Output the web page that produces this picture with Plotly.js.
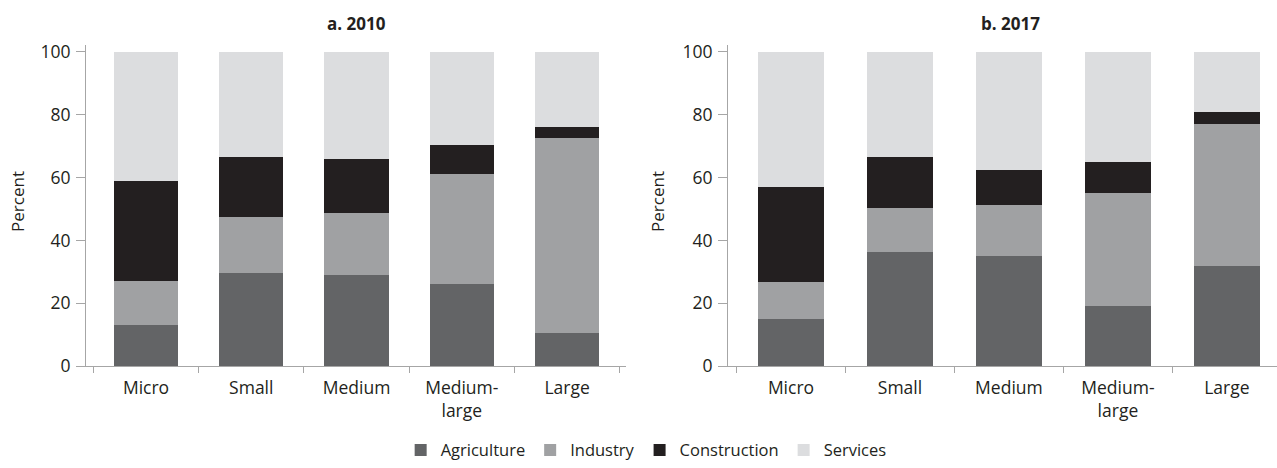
<!DOCTYPE html>
<html>
<head>
<meta charset="utf-8">
<script src="https://cdn.plot.ly/plotly-3.0.1.min.js"></script>
<style>html,body{margin:0;padding:0;background:#fff}#chart{width:1277px;height:468px}</style>
</head>
<body>
<div id="chart"></div>
<script>
const categories = ["Micro", "Small", "Medium", "Medium-<br>large", "Large"];
const seriesNames = ["Agriculture", "Industry", "Construction", "Services"];

const agriculture2010 = [13.1, 29.8, 29.1, 26.1, 10.7];
const industry2010 = [14.0, 17.7, 19.6, 35.2, 61.8];
const construction2010 = [31.7, 19.0, 17.2, 9.1, 3.7];
const services2010 = [41.2, 33.5, 34.1, 29.6, 23.8];

const agriculture2017 = [14.9, 36.2, 35.0, 19.2, 31.8];
const industry2017 = [11.9, 14.1, 16.2, 35.9, 45.2];
const construction2017 = [30.1, 16.2, 11.2, 10.0, 3.9];
const services2017 = [43.1, 33.5, 37.6, 34.9, 19.1];

const panelTitles = ["a. 2010", "b. 2017"];
const yTickVals = [0, 20, 40, 60, 80, 100];

const colors = ["#636466", "#a0a1a3", "#231f20", "#dcdddf"];
const textColor = "#231f20";
const axisColor = "#a6a6a6";
const FONT = "Open Sans, Noto Sans, sans-serif";

const data2010 = [agriculture2010, industry2010, construction2010, services2010];
const data2017 = [agriculture2017, industry2017, construction2017, services2017];

const traces = [];
[data2010, data2017].forEach((panel, p) => {
  panel.forEach((vals, i) => {
    traces.push({
      type: "bar",
      name: seriesNames[i],
      x: categories,
      y: vals,
      xaxis: p === 0 ? "x" : "x2",
      yaxis: p === 0 ? "y" : "y2",
      marker: {color: colors[i], line: {width: 0}},
      showlegend: p === 0,
      legendgroup: seriesNames[i],
      hoverinfo: "skip"
    });
  });
});

const W = 1277, H = 468;
const yDom = [(H - 371.7) / H, (H - 46) / H];

function xAxis(domain, range) {
  return {
    domain: domain,
    type: "category",
    range: range,
    showline: true,
    linecolor: axisColor,
    linewidth: 1,
    ticks: "outside",
    tickson: "boundaries",
    ticklen: 6,
    tickcolor: axisColor,
    ticklabelstandoff: 6,
    showgrid: false,
    zeroline: false,
    tickfont: {family: FONT, size: 17.5, color: textColor},
    fixedrange: true
  };
}
function yAxis(anchor) {
  return {
    domain: yDom,
    anchor: anchor,
    range: [0, 102.1],
    tickvals: yTickVals,
    showline: true,
    linecolor: axisColor,
    linewidth: 1,
    ticks: "outside",
    ticklen: 9,
    tickcolor: axisColor,
    ticklabelstandoff: 2,
    showgrid: false,
    zeroline: false,
    tickfont: {family: FONT, size: 17.5, color: textColor},
    fixedrange: true
  };
}

const layout = {
  width: W, height: H,
  margin: {l: 0, r: 0, t: 0, b: 0},
  paper_bgcolor: "#fff",
  plot_bgcolor: "#fff",
  barmode: "stack",
  bargap: 0.39,
  font: {family: FONT, color: textColor},
  xaxis: Object.assign(xAxis([86 / W, 626 / W], [-0.57, 4.56]), {anchor: "y"}),
  yaxis: yAxis("x"),
  xaxis2: Object.assign(xAxis([728 / W, 1], [-0.578, 4.46]), {anchor: "y2"}),
  yaxis2: yAxis("x2"),
  showlegend: true,
  legend: {
    orientation: "h",
    x: 0.506, xanchor: "center",
    y: (H - 457) / H, yanchor: "middle",
    font: {family: FONT, size: 16.5, color: textColor},
    traceorder: "normal",
    itemwidth: 30,
    itemclick: false
  },
  annotations: [
    {text: "<b>" + panelTitles[0] + "</b>", xref: "paper", yref: "paper", x: 356 / W, y: (H - 24) / H,
     showarrow: false, font: {family: FONT, size: 17, color: textColor}, xanchor: "center", yanchor: "middle"},
    {text: "<b>" + panelTitles[1] + "</b>", xref: "paper", yref: "paper", x: 1010 / W, y: (H - 24) / H,
     showarrow: false, font: {family: FONT, size: 17, color: textColor}, xanchor: "center", yanchor: "middle"},
    {text: "Percent", xref: "paper", yref: "paper", x: 18 / W, y: (H - 205) / H, textangle: -90,
     showarrow: false, font: {family: FONT, size: 17, color: textColor}, xanchor: "center", yanchor: "middle"},
    {text: "Percent", xref: "paper", yref: "paper", x: 658 / W, y: (H - 205) / H, textangle: -90,
     showarrow: false, font: {family: FONT, size: 17, color: textColor}, xanchor: "center", yanchor: "middle"}
  ]
};

Plotly.newPlot("chart", traces, layout, {displayModeBar: false, staticPlot: true});
</script>
</body>
</html>
